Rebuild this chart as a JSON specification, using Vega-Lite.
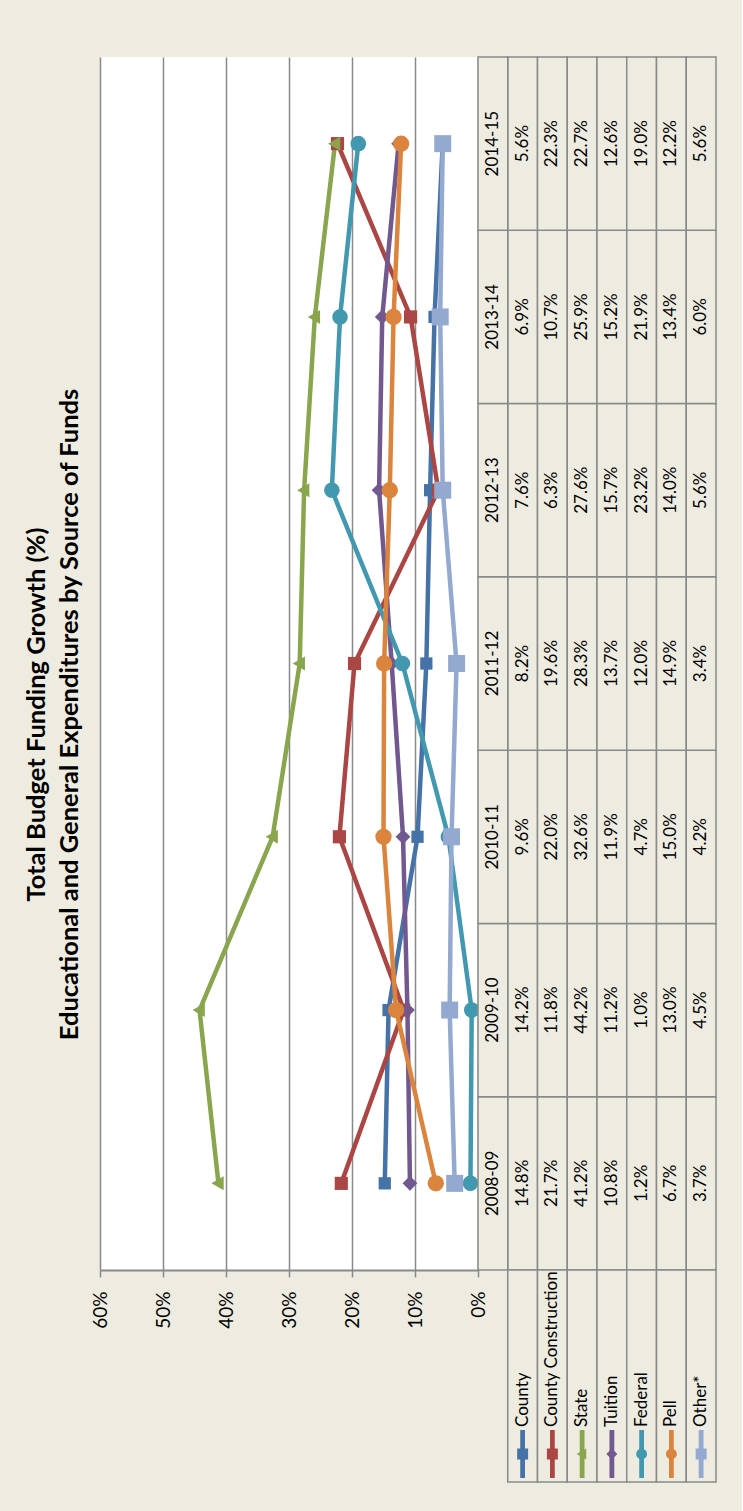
{
  "$schema": "https://vega.github.io/schema/vega-lite/v6.json",
  "background": "#EEECE1",
  "padding": {"left": 24, "top": 56, "right": 25, "bottom": 28},
  "config": {
    "view": {"stroke": null},
    "font": "Lato",
    "concat": {"spacing": 0}
  },
  "title": {
    "text": ["Total Budget Funding Growth (%)", "Educational and General Expenditures by Source of Funds"],
    "orient": "left",
    "anchor": "middle",
    "font": "Lato",
    "fontSize": 25.5,
    "fontWeight": "bold",
    "color": "#000000",
    "lineHeight": 33,
    "offset": 8,
    "dx": 55
  },
  "datasets": {
    "growth": [
      {"year": "2008-09", "series": "County", "value": 14.8},
      {"year": "2008-09", "series": "County Construction", "value": 21.7},
      {"year": "2008-09", "series": "State", "value": 41.2},
      {"year": "2008-09", "series": "Tuition", "value": 10.8},
      {"year": "2008-09", "series": "Federal", "value": 1.2},
      {"year": "2008-09", "series": "Pell", "value": 6.7},
      {"year": "2008-09", "series": "Other*", "value": 3.7},
      {"year": "2009-10", "series": "County", "value": 14.2},
      {"year": "2009-10", "series": "County Construction", "value": 11.8},
      {"year": "2009-10", "series": "State", "value": 44.2},
      {"year": "2009-10", "series": "Tuition", "value": 11.2},
      {"year": "2009-10", "series": "Federal", "value": 1.0},
      {"year": "2009-10", "series": "Pell", "value": 13.0},
      {"year": "2009-10", "series": "Other*", "value": 4.5},
      {"year": "2010-11", "series": "County", "value": 9.6},
      {"year": "2010-11", "series": "County Construction", "value": 22.0},
      {"year": "2010-11", "series": "State", "value": 32.6},
      {"year": "2010-11", "series": "Tuition", "value": 11.9},
      {"year": "2010-11", "series": "Federal", "value": 4.7},
      {"year": "2010-11", "series": "Pell", "value": 15.0},
      {"year": "2010-11", "series": "Other*", "value": 4.2},
      {"year": "2011-12", "series": "County", "value": 8.2},
      {"year": "2011-12", "series": "County Construction", "value": 19.6},
      {"year": "2011-12", "series": "State", "value": 28.3},
      {"year": "2011-12", "series": "Tuition", "value": 13.7},
      {"year": "2011-12", "series": "Federal", "value": 12.0},
      {"year": "2011-12", "series": "Pell", "value": 14.9},
      {"year": "2011-12", "series": "Other*", "value": 3.4},
      {"year": "2012-13", "series": "County", "value": 7.6},
      {"year": "2012-13", "series": "County Construction", "value": 6.3},
      {"year": "2012-13", "series": "State", "value": 27.6},
      {"year": "2012-13", "series": "Tuition", "value": 15.7},
      {"year": "2012-13", "series": "Federal", "value": 23.2},
      {"year": "2012-13", "series": "Pell", "value": 14.0},
      {"year": "2012-13", "series": "Other*", "value": 5.6},
      {"year": "2013-14", "series": "County", "value": 6.9},
      {"year": "2013-14", "series": "County Construction", "value": 10.7},
      {"year": "2013-14", "series": "State", "value": 25.9},
      {"year": "2013-14", "series": "Tuition", "value": 15.2},
      {"year": "2013-14", "series": "Federal", "value": 21.9},
      {"year": "2013-14", "series": "Pell", "value": 13.4},
      {"year": "2013-14", "series": "Other*", "value": 6.0},
      {"year": "2014-15", "series": "County", "value": 5.6},
      {"year": "2014-15", "series": "County Construction", "value": 22.3},
      {"year": "2014-15", "series": "State", "value": 22.7},
      {"year": "2014-15", "series": "Tuition", "value": 12.6},
      {"year": "2014-15", "series": "Federal", "value": 19.0},
      {"year": "2014-15", "series": "Pell", "value": 12.2},
      {"year": "2014-15", "series": "Other*", "value": 5.6}
    ]
  },
  "spacing": 0,
  "bounds": "flush",
  "resolve": {"scale": {"x": "independent", "y": "independent", "color": "independent", "shape": "independent", "size": "independent"}},
  "hconcat": [
    {
      "width": 378,
      "height": 1213,
      "view": {"fill": "#FFFFFF", "stroke": null},
      "data": {"name": "growth"},
      "encoding": {
        "x": {
          "field": "value",
          "type": "quantitative",
          "scale": {"domain": [0, 60], "reverse": true, "nice": false},
          "axis": {
            "orient": "bottom",
            "values": [0, 10, 20, 30, 40, 50, 60],
            "labelExpr": "datum.value + '%'",
            "labelAngle": 270,
            "labelFont": "Lato",
            "labelFontSize": 19,
            "labelColor": "#000000",
            "labelPadding": 14,
            "labelFlush": false,
            "labelOverlap": false,
            "tickSize": 7,
            "tickColor": "#898989",
            "tickWidth": 1.5,
            "domainColor": "#898989",
            "domainWidth": 2,
            "grid": true,
            "gridColor": "#898989",
            "gridWidth": 1.5,
            "title": null
          }
        },
        "y": {"field": "year", "type": "ordinal", "sort": "descending", "axis": null},
        "color": {
          "field": "series",
          "type": "nominal",
          "scale": {
            "domain": ["County", "County Construction", "State", "Tuition", "Federal", "Pell", "Other*"],
            "range": ["#4572A7", "#AA4643", "#89A54E", "#71588F", "#4198AF", "#DB843D", "#93A9CF"]
          },
          "legend": null
        }
      },
      "layer": [
        {
          "mark": {"type": "line", "strokeWidth": 4.5},
          "encoding": {"order": {"field": "year", "type": "ordinal"}}
        },
        {
          "mark": {"type": "point", "filled": true, "opacity": 1},
          "encoding": {
            "shape": {
              "field": "series",
              "type": "nominal",
              "scale": {
                "domain": ["County", "County Construction", "State", "Tuition", "Federal", "Pell", "Other*"],
                "range": ["square", "square", "M-1,0L0.75,-1L0.75,1Z", "diamond", "circle", "circle", "square"]
              },
              "legend": null
            },
            "size": {
              "field": "series",
              "type": "nominal",
              "scale": {
                "domain": ["County", "County Construction", "State", "Tuition", "Federal", "Pell", "Other*"],
                "range": [150, 289, 361, 225, 225, 289, 196]
              },
              "legend": null
            }
          }
        }
      ]
    },
    {
      "spacing": 0,
      "bounds": "flush",
      "resolve": {"scale": {"x": "independent", "y": "independent", "color": "independent", "shape": "independent", "size": "independent"}},
      "vconcat": [
        {
          "width": 238,
          "height": 1213,
          "encoding": {
            "x": {
              "field": "series",
              "type": "nominal",
              "scale": {
                "domain": ["yr", "County", "County Construction", "State", "Tuition", "Federal", "Pell", "Other*"],
                "paddingInner": 0,
                "paddingOuter": 0
              },
              "axis": null
            },
            "y": {
              "field": "year",
              "type": "ordinal",
              "sort": "descending",
              "scale": {"paddingInner": 0, "paddingOuter": 0},
              "axis": null
            }
          },
          "layer": [
            {
              "data": {"name": "growth"},
              "transform": [{"calculate": "format(datum.value, '.1f') + '%'", "as": "label"}],
              "layer": [
                {"mark": {"type": "rect", "fill": "#EEECE1", "stroke": "#898989", "strokeWidth": 1.5}},
                {
                  "mark": {"type": "text", "angle": 270, "align": "center", "baseline": "middle", "font": "Lato", "fontSize": 17, "color": "#000000"},
                  "encoding": {"text": {"field": "label"}}
                }
              ]
            },
            {
              "data": {"name": "growth"},
              "transform": [
                {"aggregate": [{"op": "count", "as": "n"}], "groupby": ["year"]},
                {"calculate": "'yr'", "as": "series"}
              ],
              "layer": [
                {"mark": {"type": "rect", "fill": "#EEECE1", "stroke": "#898989", "strokeWidth": 1.5}},
                {
                  "mark": {"type": "text", "angle": 270, "align": "center", "baseline": "middle", "font": "Lato", "fontSize": 17, "color": "#000000"},
                  "encoding": {"text": {"field": "year"}}
                }
              ]
            }
          ]
        },
        {
          "width": 238,
          "height": 212,
          "data": {"name": "growth"},
          "transform": [{"aggregate": [{"op": "count", "as": "n"}], "groupby": ["series"]}],
          "encoding": {
            "x": {
              "field": "series",
              "type": "nominal",
              "scale": {
                "domain": ["yr", "County", "County Construction", "State", "Tuition", "Federal", "Pell", "Other*"],
                "paddingInner": 0,
                "paddingOuter": 0
              },
              "axis": null
            }
          },
          "layer": [
            {"mark": {"type": "rect", "fill": "#EEECE1", "stroke": "#898989", "strokeWidth": 1.5}},
            {
              "mark": {"type": "text", "angle": 270, "align": "left", "baseline": "middle", "dx": -51, "font": "Lato", "fontSize": 17, "color": "#000000"},
              "encoding": {"text": {"field": "series"}}
            },
            {
              "mark": {"type": "point", "filled": true, "opacity": 1, "yOffset": 78, "size": 2304, "shape": "M-0.1,-1H0.1V1H-0.1Z"},
              "encoding": {
                "color": {
                  "field": "series",
                  "type": "nominal",
                  "scale": {
                    "domain": ["County", "County Construction", "State", "Tuition", "Federal", "Pell", "Other*"],
                    "range": ["#4572A7", "#AA4643", "#89A54E", "#71588F", "#4198AF", "#DB843D", "#93A9CF"]
                  },
                  "legend": null
                }
              }
            },
            {
              "mark": {"type": "point", "filled": true, "opacity": 1, "yOffset": 78},
              "encoding": {
                "color": {
                  "field": "series",
                  "type": "nominal",
                  "scale": {
                    "domain": ["County", "County Construction", "State", "Tuition", "Federal", "Pell", "Other*"],
                    "range": ["#4572A7", "#AA4643", "#89A54E", "#71588F", "#4198AF", "#DB843D", "#93A9CF"]
                  },
                  "legend": null
                },
                "shape": {
                  "field": "series",
                  "type": "nominal",
                  "scale": {
                    "domain": ["County", "County Construction", "State", "Tuition", "Federal", "Pell", "Other*"],
                    "range": ["square", "square", "M-1,0L0.75,-1L0.75,1Z", "diamond", "circle", "circle", "square"]
                  },
                  "legend": null
                },
                "size": {
                  "field": "series",
                  "type": "nominal",
                  "scale": {
                    "domain": ["County", "County Construction", "State", "Tuition", "Federal", "Pell", "Other*"],
                    "range": [120, 120, 120, 100, 120, 130, 120]
                  },
                  "legend": null
                }
              }
            }
          ]
        }
      ]
    }
  ]
}
